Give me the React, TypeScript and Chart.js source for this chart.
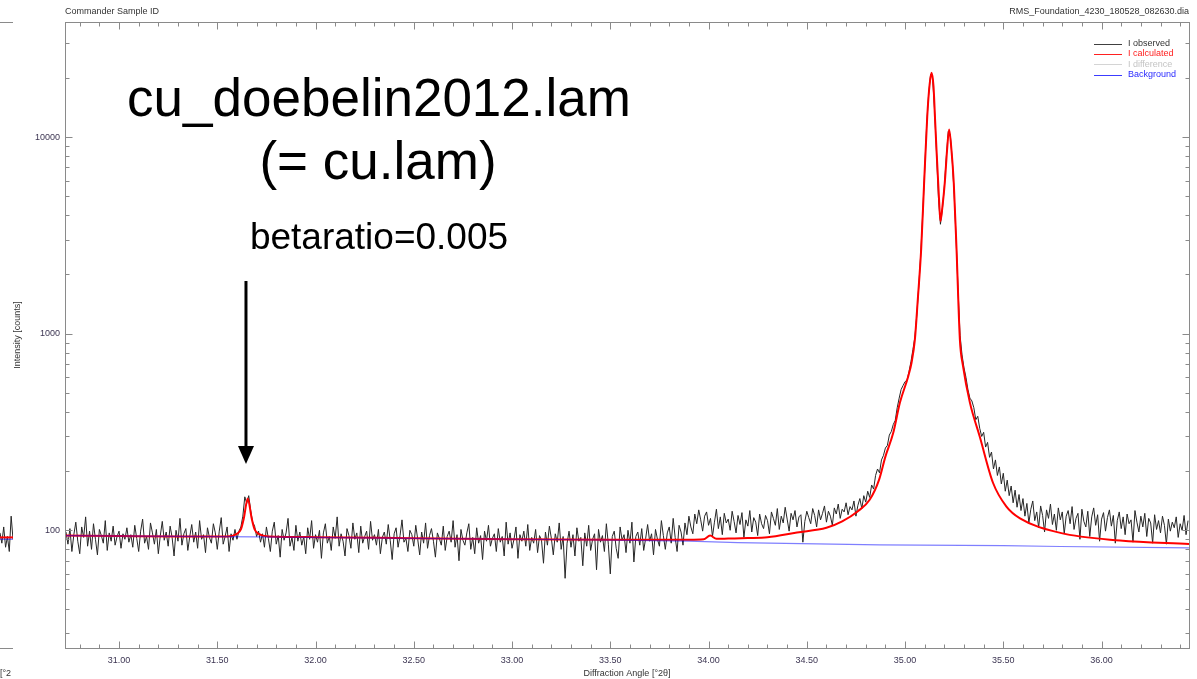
import React, { useEffect, useRef } from 'react';
import { Chart, registerables } from 'chart.js';
Chart.register(...registerables);

// ---------- data ----------
const seriesNames = ['I observed', 'I calculated', 'I difference', 'Background'];

const obsStart = 30.73;
const obsStep = 0.01;
const observed = [
  // 30.73 - 31.59
  98, 85, 102, 78, 95, 110, 88, 76, 104, 92, 117, 83, 99, 80, 108, 90, 75, 101, 94, 86,
  112, 79, 97, 88, 105, 84, 93, 99, 81, 96, 90, 103, 87, 95, 82, 106, 91, 78, 99, 114,
  86, 93, 80, 109, 97, 85, 101, 76, 94, 111, 89, 98, 83, 105, 92, 74, 100, 88, 115, 84,
  96, 102, 79, 93, 107, 87, 98, 81, 112, 90, 95, 77, 103, 92, 86, 108, 97, 80, 99, 116,
  85, 93, 104, 78, 96, 89, 101,
  // 31.60 - 31.71
  90, 99, 104, 118, 148, 137, 150, 126, 110, 105, 93, 99,
  // 31.72 - 33.90
  87, 96, 82, 104, 91, 78, 99, 110, 85, 94, 73, 101, 89, 97, 115, 83, 92, 79, 106, 88,
  98, 84, 93, 76, 103, 90, 112, 81, 95, 87, 100, 72, 97, 108, 86, 93, 79, 104, 91, 117,
  83, 96, 88, 74, 102, 94, 81, 109, 90, 97, 77, 105, 86, 93, 99, 80, 111, 89, 95, 84,
  101, 76, 92, 98, 85, 107, 89, 71, 96, 103, 82, 94, 113, 87, 91, 78, 100, 95, 83, 106,
  90, 75, 98, 86, 109, 81, 94, 102, 88, 73, 97, 91, 84, 105, 79, 93, 99, 87, 112, 82,
  95, 70, 101, 89, 84, 97, 108, 80, 92, 76, 103, 86, 94, 71, 99, 88, 106, 83, 91, 96,
  78, 102, 87, 93, 74, 110, 85, 97, 81, 90, 104, 72, 95, 88, 99, 83, 107, 79, 92, 86,
  101, 77, 94, 89, 68, 98, 84, 105, 91, 75, 96, 87, 109, 80, 93, 57, 86, 99, 82, 95,
  74, 103, 88, 92, 66, 97, 83, 106, 79, 90, 96, 63, 101, 87, 94, 78, 108, 85, 60, 93,
  99, 81, 72, 104, 89, 95, 77, 100, 86, 110, 69, 93, 98, 84, 102, 79, 91, 107, 88, 96,
  75, 101, 90, 83, 112, 94, 80, 97, 104, 86, 115, 92, 78, 106, 98, 84, 109, 95, 118,
  // 33.91 - 34.84
  104, 96, 121, 108, 127, 113, 99, 118, 124, 106, 115, 93, 110, 128, 102, 117, 95, 122, 109, 114,
  100, 125, 111, 97, 119, 107, 123, 92, 113, 105, 126, 98, 116, 110, 94, 121, 108, 102, 119, 112,
  96, 124, 115, 106, 129, 101, 118, 109, 131, 114, 99, 122, 113, 126, 104, 117, 120, 87, 111, 125,
  116, 108, 129, 119, 104, 127, 113, 122, 133, 110, 125, 118, 106, 130, 121, 136, 115, 128, 124, 138,
  120, 132, 127, 141, 118, 134, 145, 129, 150, 139, 158, 147, 170, 162,
  // 34.85 - 35.30
  190, 205, 196, 228, 240, 262, 270, 305, 318, 345, 362, 420, 470, 520, 545, 570, 580, 640, 720, 830,
  960, 1250, 1750, 2550, 4100, 6800, 11500, 16500, 20800, 20000, 13800, 8400, 4900, 3600, 4300, 5600, 7900, 10700, 10300, 7700,
  5100, 3000, 1650, 980, 780, 670,
  // 35.31 - 36.44
  600, 520, 470, 455, 420, 365, 380, 330, 300, 315, 265, 280, 235, 250, 205, 228, 190, 210, 172, 195,
  158, 180, 150, 168, 138, 160, 131, 152, 126, 145,
  118, 137, 109, 128, 141, 112, 124, 103, 133, 119, 98, 127, 115, 136, 107, 121, 100, 130, 113, 124,
  96, 118, 126, 108, 132, 101, 115, 122, 90, 128, 111, 104, 125, 93, 117, 130, 106, 120, 88, 114,
  123, 99, 116, 127, 105, 119, 86, 112, 124, 102, 117, 95, 121, 108, 113, 87, 126, 110, 98, 118,
  104, 122, 93, 115, 109, 86, 120, 101, 112, 97, 118, 106, 85, 114, 99, 110, 103, 117, 92, 108,
  100, 119, 95, 112,
];

const calcX = [30.725, 31.0, 31.3, 31.55, 31.6, 31.62, 31.635, 31.655, 31.675, 31.69, 31.71, 31.76, 32.0, 32.5, 33.0, 33.5, 33.9, 33.975, 34.008, 34.04, 34.1, 34.2, 34.3, 34.45, 34.6, 34.68, 34.76, 34.82, 34.868, 34.9, 34.94, 34.974, 35.016, 35.033, 35.05, 35.065, 35.082, 35.097, 35.113, 35.125, 35.135, 35.145, 35.152, 35.16, 35.173, 35.18, 35.19, 35.202, 35.214, 35.224, 35.236, 35.248, 35.262, 35.279, 35.295, 35.33, 35.38, 35.448, 35.516, 35.585, 35.79, 36.094, 36.445];
const calcY = [94, 93.5, 93, 93, 96, 101, 115, 145, 115, 101, 96, 93, 92.3, 91, 90, 89.5, 89.5, 90, 94, 90.5, 90.8, 91.3, 92.2, 97.5, 103, 111, 125, 143, 181, 237, 313, 446, 606, 711, 933, 1500, 2685, 5832, 12760, 18500, 21230, 18000, 12760, 8635, 4808, 3728, 4400, 5832, 8635, 10920, 8635, 5832, 2685, 933, 683, 446, 300, 174, 132, 115, 97, 88.7, 85.1];

const bgX = [30.725, 31.7, 32.5, 33.35, 33.9, 34.15, 34.87, 35.5, 35.79, 36.445];
const bgY = [94, 92.5, 91, 89.5, 88, 86.5, 84.4, 83.5, 82.7, 81.4];

const diffX: number[] = [];
const diffY: number[] = [];

const xTickLabels = [31.0, 31.5, 32.0, 32.5, 33.0, 33.5, 34.0, 34.5, 35.0, 35.5, 36.0];
const yTickLabels = [100, 1000, 10000];
const xMin = 30.725;
const xMax = 36.445;
const yMin = 25.2;
const yMax = 38460;

const headerLeft = 'Commander Sample ID';
const headerRight = 'RMS_Foundation_4230_180528_082630.dia';
const annoTitle1 = 'cu_doebelin2012.lam';
const annoTitle2 = '(= cu.lam)';
const annoSub = 'betaratio=0.005';
const arrowAt = 31.646;

// fragment of the neighbouring chart at the left edge
const fragObs = [97, 86, 104, 82, 93, 78, 118, 90];
const fragCalc = [92, 92];
const fragBg = [90, 90];

const FONT = '"Liberation Sans", Arial, sans-serif';

const legendStyles = [
  { line: '#404040', text: '#333333' },
  { line: '#ff2020', text: '#ff2020' },
  { line: '#d4d4d4', text: '#c4c4c4' },
  { line: '#3c3cff', text: '#2a2aff' },
];

const overlayPlugin = {
  id: 'overlay',
  afterDraw(chart: any) {
    const ctx = chart.ctx;
    const { left, right, top, bottom } = chart.chartArea;
    const xs = chart.scales.x;
    const ys = chart.scales.y;
    ctx.save();
    // frame
    ctx.strokeStyle = '#8a8a8a';
    ctx.lineWidth = 1;
    const L = Math.round(left) + 0.5, R = Math.round(right) + 0.5, T = Math.round(top) + 0.5, B = Math.round(bottom) + 0.5;
    ctx.strokeRect(L, T, R - L, B - T);
    // inside ticks, x
    ctx.beginPath();
    for (let k = Math.ceil(xMin * 10); k <= Math.floor(xMax * 10); k++) {
      const v = k / 10;
      const major = k % 5 === 0;
      const len = major ? 7 : 4;
      const px = Math.round(xs.getPixelForValue(v)) + 0.5;
      ctx.moveTo(px, B); ctx.lineTo(px, B - len);
      ctx.moveTo(px, T); ctx.lineTo(px, T + len);
    }
    // inside ticks, y (log)
    for (let d = 10; d <= 100000; d *= 10) {
      for (let m = 1; m <= 9; m++) {
        const v = m * d;
        if (v < yMin || v > yMax) continue;
        const len = m === 1 ? 7 : 4;
        const py = Math.round(ys.getPixelForValue(v)) + 0.5;
        ctx.moveTo(L, py); ctx.lineTo(L + len, py);
        ctx.moveTo(R, py); ctx.lineTo(R - len, py);
      }
    }
    ctx.stroke();

    // header texts
    ctx.fillStyle = '#333333';
    ctx.font = `9px ${FONT}`;
    ctx.textBaseline = 'middle';
    ctx.textAlign = 'left';
    ctx.fillText(headerLeft, left, 12);
    ctx.textAlign = 'right';
    ctx.fillText(headerRight, right, 12);

    // legend
    ctx.textAlign = 'left';
    seriesNames.forEach((name, i) => {
      const y = 43.5 + i * 10.4;
      ctx.strokeStyle = legendStyles[i].line;
      ctx.lineWidth = 1;
      ctx.beginPath();
      ctx.moveTo(1094, Math.round(y) + 0.5);
      ctx.lineTo(1122, Math.round(y) + 0.5);
      ctx.stroke();
      ctx.fillStyle = legendStyles[i].text;
      ctx.fillText(name, 1128, y);
    });

    // annotation
    ctx.fillStyle = '#000000';
    ctx.textAlign = 'center';
    ctx.textBaseline = 'alphabetic';
    ctx.font = `53px ${FONT}`;
    ctx.fillText(annoTitle1, 379, 116);
    ctx.fillText(annoTitle2, 378, 179);
    ctx.font = `37px ${FONT}`;
    ctx.fillText(annoSub, 379, 249);

    // arrow
    const ax = xs.getPixelForValue(arrowAt);
    ctx.strokeStyle = '#000000';
    ctx.lineWidth = 3;
    ctx.beginPath();
    ctx.moveTo(ax, 281);
    ctx.lineTo(ax, 449);
    ctx.stroke();
    ctx.beginPath();
    ctx.moveTo(ax - 8, 446);
    ctx.lineTo(ax + 8, 446);
    ctx.lineTo(ax, 464);
    ctx.closePath();
    ctx.fill();
    ctx.restore();
  },
};

export default function App() {
  const mainRef = useRef<HTMLCanvasElement | null>(null);
  const fragRef = useRef<HTMLCanvasElement | null>(null);

  useEffect(() => {
    const tickColor = '#3c3552';
    const main = new Chart(mainRef.current as HTMLCanvasElement, {
      type: 'line',
      data: {
        datasets: [
          {
            label: seriesNames[3],
            data: bgX.map((x, i) => ({ x, y: bgY[i] })),
            borderColor: 'rgba(0,0,255,0.5)',
            borderWidth: 1.2,
            pointRadius: 0,
            tension: 0,
            order: 0,
          },
          {
            label: seriesNames[1],
            data: calcX.map((x, i) => ({ x, y: calcY[i] })),
            borderColor: '#ff0000',
            borderWidth: 2,
            pointRadius: 0,
            cubicInterpolationMode: 'monotone',
            order: 1,
          },
          {
            label: seriesNames[2],
            data: diffX.map((x, i) => ({ x, y: diffY[i] })),
            borderColor: '#d4d4d4',
            borderWidth: 1,
            pointRadius: 0,
            order: 2,
          },
          {
            label: seriesNames[0],
            data: observed.map((y, i) => ({ x: obsStart + i * obsStep, y })),
            borderColor: '#262626',
            borderWidth: 1,
            pointRadius: 0,
            tension: 0,
            order: 3,
          },
        ],
      } as any,
      options: {
        animation: false,
        responsive: false,
        devicePixelRatio: 1,
        events: [],
        layout: { padding: { top: 22, right: 8, left: 0, bottom: 0 } },
        plugins: { legend: { display: false }, tooltip: { enabled: false } },
        scales: {
          x: {
            type: 'linear',
            min: xMin,
            max: xMax,
            grid: { display: false, drawTicks: false },
            border: { display: false },
            afterBuildTicks: (s: any) => {
              s.ticks = xTickLabels.map((v) => ({ value: v }));
            },
            afterFit: (s: any) => {
              s.height = 31;
            },
            ticks: {
              autoSkip: false,
              maxRotation: 0,
              padding: 7,
              color: tickColor,
              font: { family: FONT, size: 9 },
              callback: (v: any) => Number(v).toFixed(2),
            },
            title: {
              display: true,
              text: 'Diffraction Angle [°2θ]',
              color: '#333333',
              font: { family: FONT, size: 9 },
              padding: { top: 0, bottom: 0 },
            },
          },
          y: {
            type: 'logarithmic',
            min: yMin,
            max: yMax,
            grid: { display: false, drawTicks: false },
            border: { display: false },
            afterBuildTicks: (s: any) => {
              s.ticks = yTickLabels.map((v) => ({ value: v }));
            },
            afterFit: (s: any) => {
              s.width = 65;
            },
            ticks: {
              autoSkip: false,
              padding: 5,
              color: tickColor,
              font: { family: FONT, size: 9 },
              callback: (v: any) => String(v),
            },
            title: {
              display: true,
              text: 'Intensity [counts]',
              color: '#333333',
              font: { family: FONT, size: 9 },
              padding: { top: 12.5, bottom: 0 },
            },
          },
        },
      } as any,
      plugins: [overlayPlugin],
    });

    const frag = new Chart(fragRef.current as HTMLCanvasElement, {
      type: 'line',
      data: {
        datasets: [
          {
            data: fragBg.map((y, i) => ({ x: i * 7, y })),
            borderColor: 'rgba(0,0,255,0.5)',
            borderWidth: 1.2,
            pointRadius: 0,
            order: 0,
          },
          {
            data: fragCalc.map((y, i) => ({ x: i * 7, y })),
            borderColor: '#ff0000',
            borderWidth: 2,
            pointRadius: 0,
            order: 1,
          },
          {
            data: fragObs.map((y, i) => ({ x: i, y })),
            borderColor: '#262626',
            borderWidth: 1,
            pointRadius: 0,
            order: 2,
          },
        ],
      } as any,
      options: {
        animation: false,
        responsive: false,
        devicePixelRatio: 1,
        events: [],
        layout: { padding: { top: 22, bottom: 31, left: 0, right: 0 } },
        plugins: { legend: { display: false }, tooltip: { enabled: false } },
        scales: {
          x: { type: 'linear', min: 0, max: 7, display: false },
          y: { type: 'logarithmic', min: yMin, max: yMax, display: false },
        },
      } as any,
    });

    return () => {
      main.destroy();
      frag.destroy();
    };
  }, []);

  return (
    <div style={{ position: 'absolute', left: 0, top: 0, width: 1197, height: 679, background: '#ffffff', overflow: 'hidden' }}>
      <canvas ref={mainRef} width={1197} height={679} style={{ position: 'absolute', left: 0, top: 0, width: 1197, height: 679 }} />
      <canvas ref={fragRef} width={13} height={679} style={{ position: 'absolute', left: 0, top: 0, width: 13, height: 679 }} />
      <div style={{ position: 'absolute', left: 0, top: 22, width: 13, height: 0, borderTop: '1px solid #8a8a8a' }} />
      <div style={{ position: 'absolute', left: 0, top: 648, width: 13, height: 0, borderTop: '1px solid #8a8a8a' }} />
      <div style={{ position: 'absolute', left: 0, top: 667, fontFamily: FONT, fontSize: 9, color: '#333333', lineHeight: '12px' }}>[°2</div>
    </div>
  );
}
